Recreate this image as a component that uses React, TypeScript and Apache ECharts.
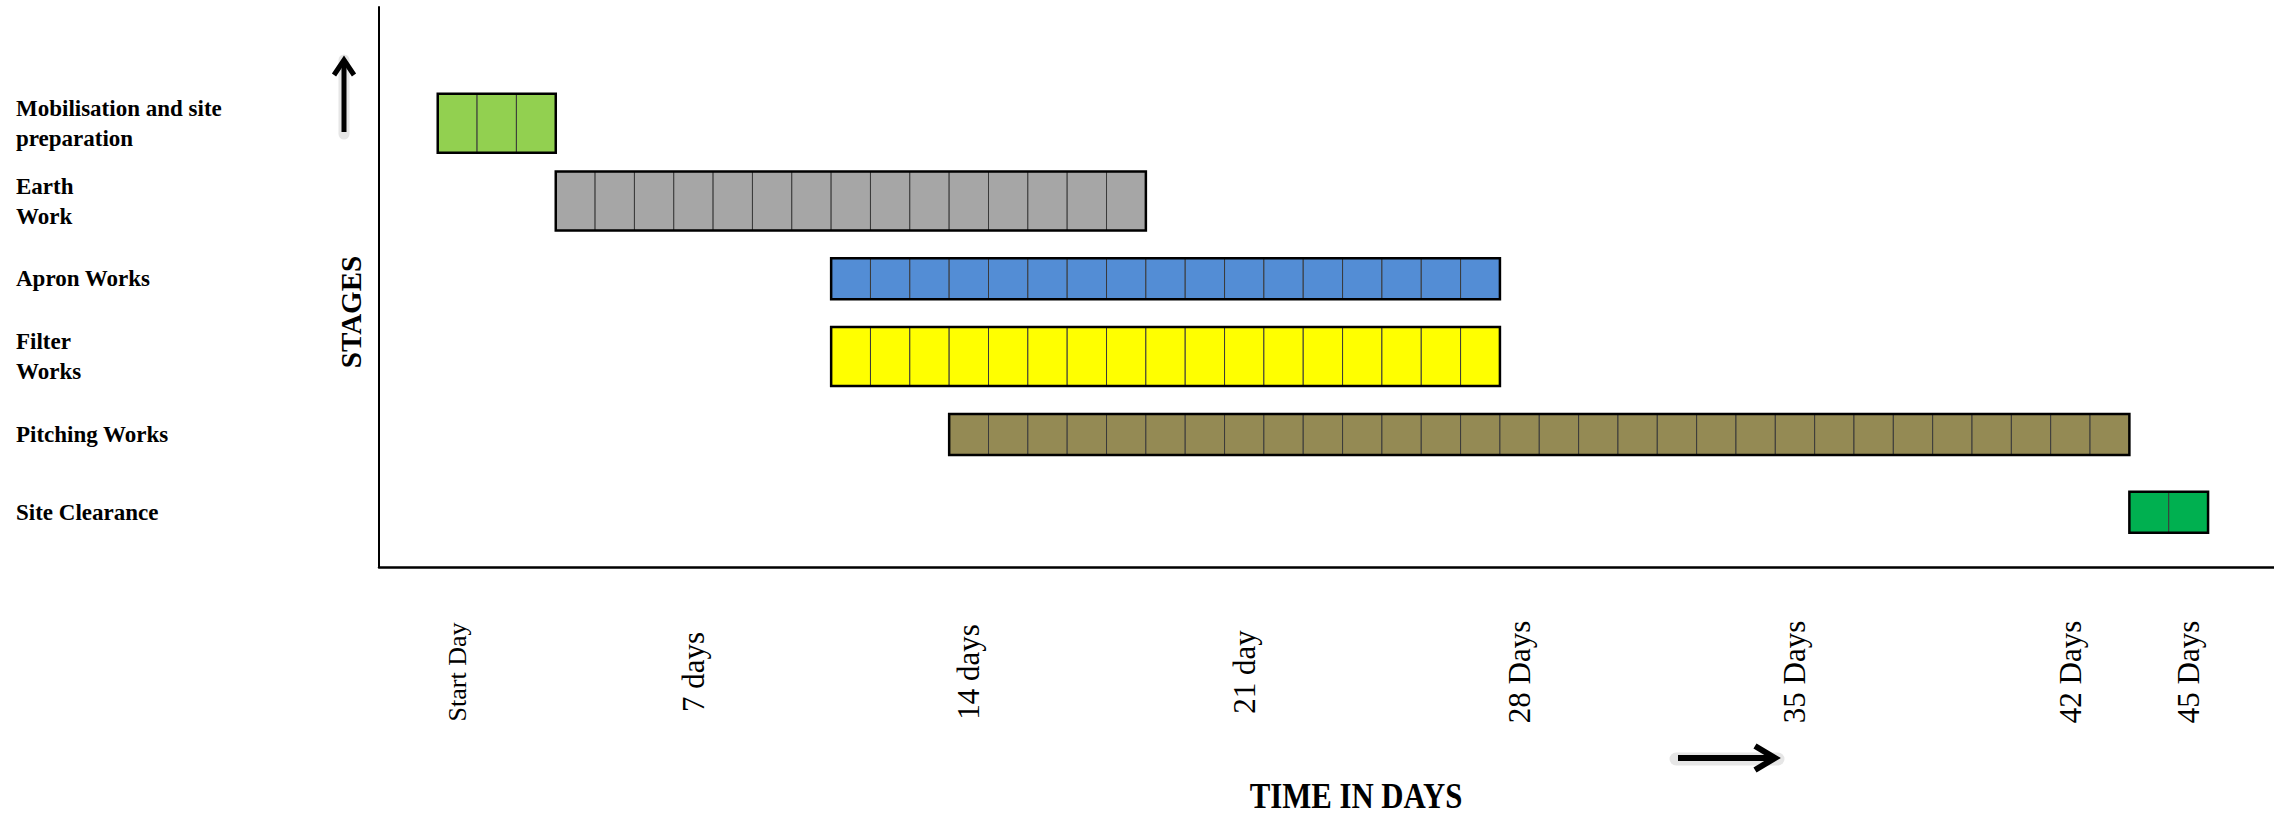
import React, { useEffect, useRef } from "react";
import * as echarts from "echarts";

// ---- data ----
const stages = [
  "Mobilisation and site\npreparation",
  "Earth\nWork",
  "Apron Works",
  "Filter\nWorks",
  "Pitching Works",
  "Site Clearance",
];
const startDays = [1, 4, 11, 11, 14, 44];
const endDays = [3, 18, 27, 27, 43, 45];
const stageColors = ["#92D050", "#A6A6A6", "#538DD5", "#FFFF00", "#948A54", "#00B050"];
const tickDays = [1, 7, 14, 21, 28, 35, 42, 45];
const tickLabels = ["Start Day", "7 days", "14 days", "21 day", "28 Days", "35 Days", "42 Days", "45 Days"];

const SERIF = "'Liberation Serif', 'Times New Roman', serif";

export default function App() {
  const ref = useRef<HTMLDivElement>(null);

  useEffect(() => {
    const chart = echarts.init(ref.current as HTMLDivElement, null, { renderer: "svg" });

    const cellData: number[][] = [];
    stages.forEach((_, s) => {
      for (let d = startDays[s]; d <= endDays[s]; d++) cellData.push([d - 1, d, s]);
    });
    const outlineData = stages.map((_, s) => [startDays[s] - 1, endDays[s], s]);

    const barHeight = (s: number) => (stages[s].indexOf("\n") >= 0 ? 59 : 41);

    const rectFor = (api: any) => {
      const s = api.value(2);
      const p0 = api.coord([api.value(0), s]);
      const p1 = api.coord([api.value(1), s]);
      const h = barHeight(s);
      return { s, shape: { x: p0[0], y: p0[1] - h / 2, width: p1[0] - p0[0], height: h } };
    };

    const option: any = {
      animation: false,
      backgroundColor: "#ffffff",
      grid: { left: 379, top: 7, right: 0, bottom: 248, containLabel: false, outerBoundsMode: "none" },
      xAxis: {
        type: "value",
        min: -1.493,
        max: 46.676,
        axisLine: { show: true, onZero: false, lineStyle: { color: "#000", width: 2.5 } },
        axisTick: { show: false },
        splitLine: { show: false },
        axisLabel: {
          customValues: tickDays.map((d) => d - 0.5),
          rotate: 90,
          align: "center",
          verticalAlign: "middle",
          margin: 105,
          color: "#000",
          fontFamily: SERIF,
          fontSize: 31,
          formatter: (v: number) => {
            const i = tickDays.indexOf(Math.round(v + 0.5));
            if (i < 0) return "";
            return i === 0 ? "{s|" + tickLabels[i] + "}" : tickLabels[i];
          },
          rich: { s: { fontFamily: SERIF, fontSize: 26, color: "#000" } },
        },
      },
      yAxis: {
        type: "value",
        inverse: true,
        min: -1.495,
        max: 5.705,
        axisLine: { show: true, onZero: false, lineStyle: { color: "#000", width: 2 } },
        axisTick: { show: false },
        splitLine: { show: false },
        axisLabel: {
          customValues: stages.map((_, i) => i),
          align: "left",
          verticalAlign: "middle",
          margin: 363,
          color: "#000",
          fontFamily: SERIF,
          fontWeight: "bold",
          fontSize: 23,
          lineHeight: 30,
          formatter: (v: number) => stages[Math.round(v)] ?? "",
        },
      },
      series: [
        {
          type: "custom",
          name: "cells",
          data: cellData,
          encode: { x: [0, 1], y: 2 },
          renderItem: (params: any, api: any) => {
            const r = rectFor(api);
            return {
              type: "rect",
              shape: r.shape,
              style: { fill: stageColors[r.s], stroke: "#3a3a3a", lineWidth: 1 },
            };
          },
        },
        {
          type: "custom",
          name: "outline",
          data: outlineData,
          encode: { x: [0, 1], y: 2 },
          renderItem: (params: any, api: any) => {
            const r = rectFor(api);
            return {
              type: "rect",
              shape: r.shape,
              style: { fill: "none", stroke: "#000", lineWidth: 2.5 },
            };
          },
        },
      ],
      graphic: [
        {
          type: "text",
          x: 351,
          y: 312,
          rotation: Math.PI / 2,
          style: {
            text: "STAGES",
            font: "bold 29px 'Liberation Serif', serif",
            fill: "#000",
            align: "center",
            verticalAlign: "middle",
          },
        },
        {
          type: "text",
          x: 1356,
          y: 796,
          scaleX: 0.88,
          style: {
            text: "TIME IN DAYS",
            font: "bold 35px 'Liberation Serif', serif",
            fill: "#000",
            align: "center",
            verticalAlign: "middle",
          },
        },
        // up arrow (halo + arrow)
        {
          type: "polyline",
          shape: { points: [[344, 134], [344, 60]] },
          style: { stroke: "#e6e6e6", lineWidth: 11, fill: "none", lineCap: "round" },
        },
        {
          type: "polyline",
          shape: { points: [[344, 132], [344, 62]] },
          style: { stroke: "#000", lineWidth: 5, fill: "none" },
        },
        {
          type: "polyline",
          shape: { points: [[334, 75], [344, 60], [354, 75]] },
          style: { stroke: "#000", lineWidth: 5, fill: "none", lineJoin: "miter" },
        },
        // right arrow (halo + arrow)
        {
          type: "polyline",
          shape: { points: [[1676, 759], [1778, 759]] },
          style: { stroke: "#e6e6e6", lineWidth: 13, fill: "none", lineCap: "round" },
        },
        {
          type: "polyline",
          shape: { points: [[1678, 758], [1772, 758]] },
          style: { stroke: "#000", lineWidth: 6, fill: "none" },
        },
        {
          type: "polyline",
          shape: { points: [[1755, 746], [1775, 758], [1755, 770]] },
          style: { stroke: "#000", lineWidth: 6, fill: "none", lineJoin: "miter" },
        },
      ],
    };

    chart.setOption(option);
    return () => chart.dispose();
  }, []);

  return (
    <div
      ref={ref}
      style={{ position: "fixed", left: 0, top: 0, width: "2274px", height: "815px", background: "#fff" }}
    />
  );
}
